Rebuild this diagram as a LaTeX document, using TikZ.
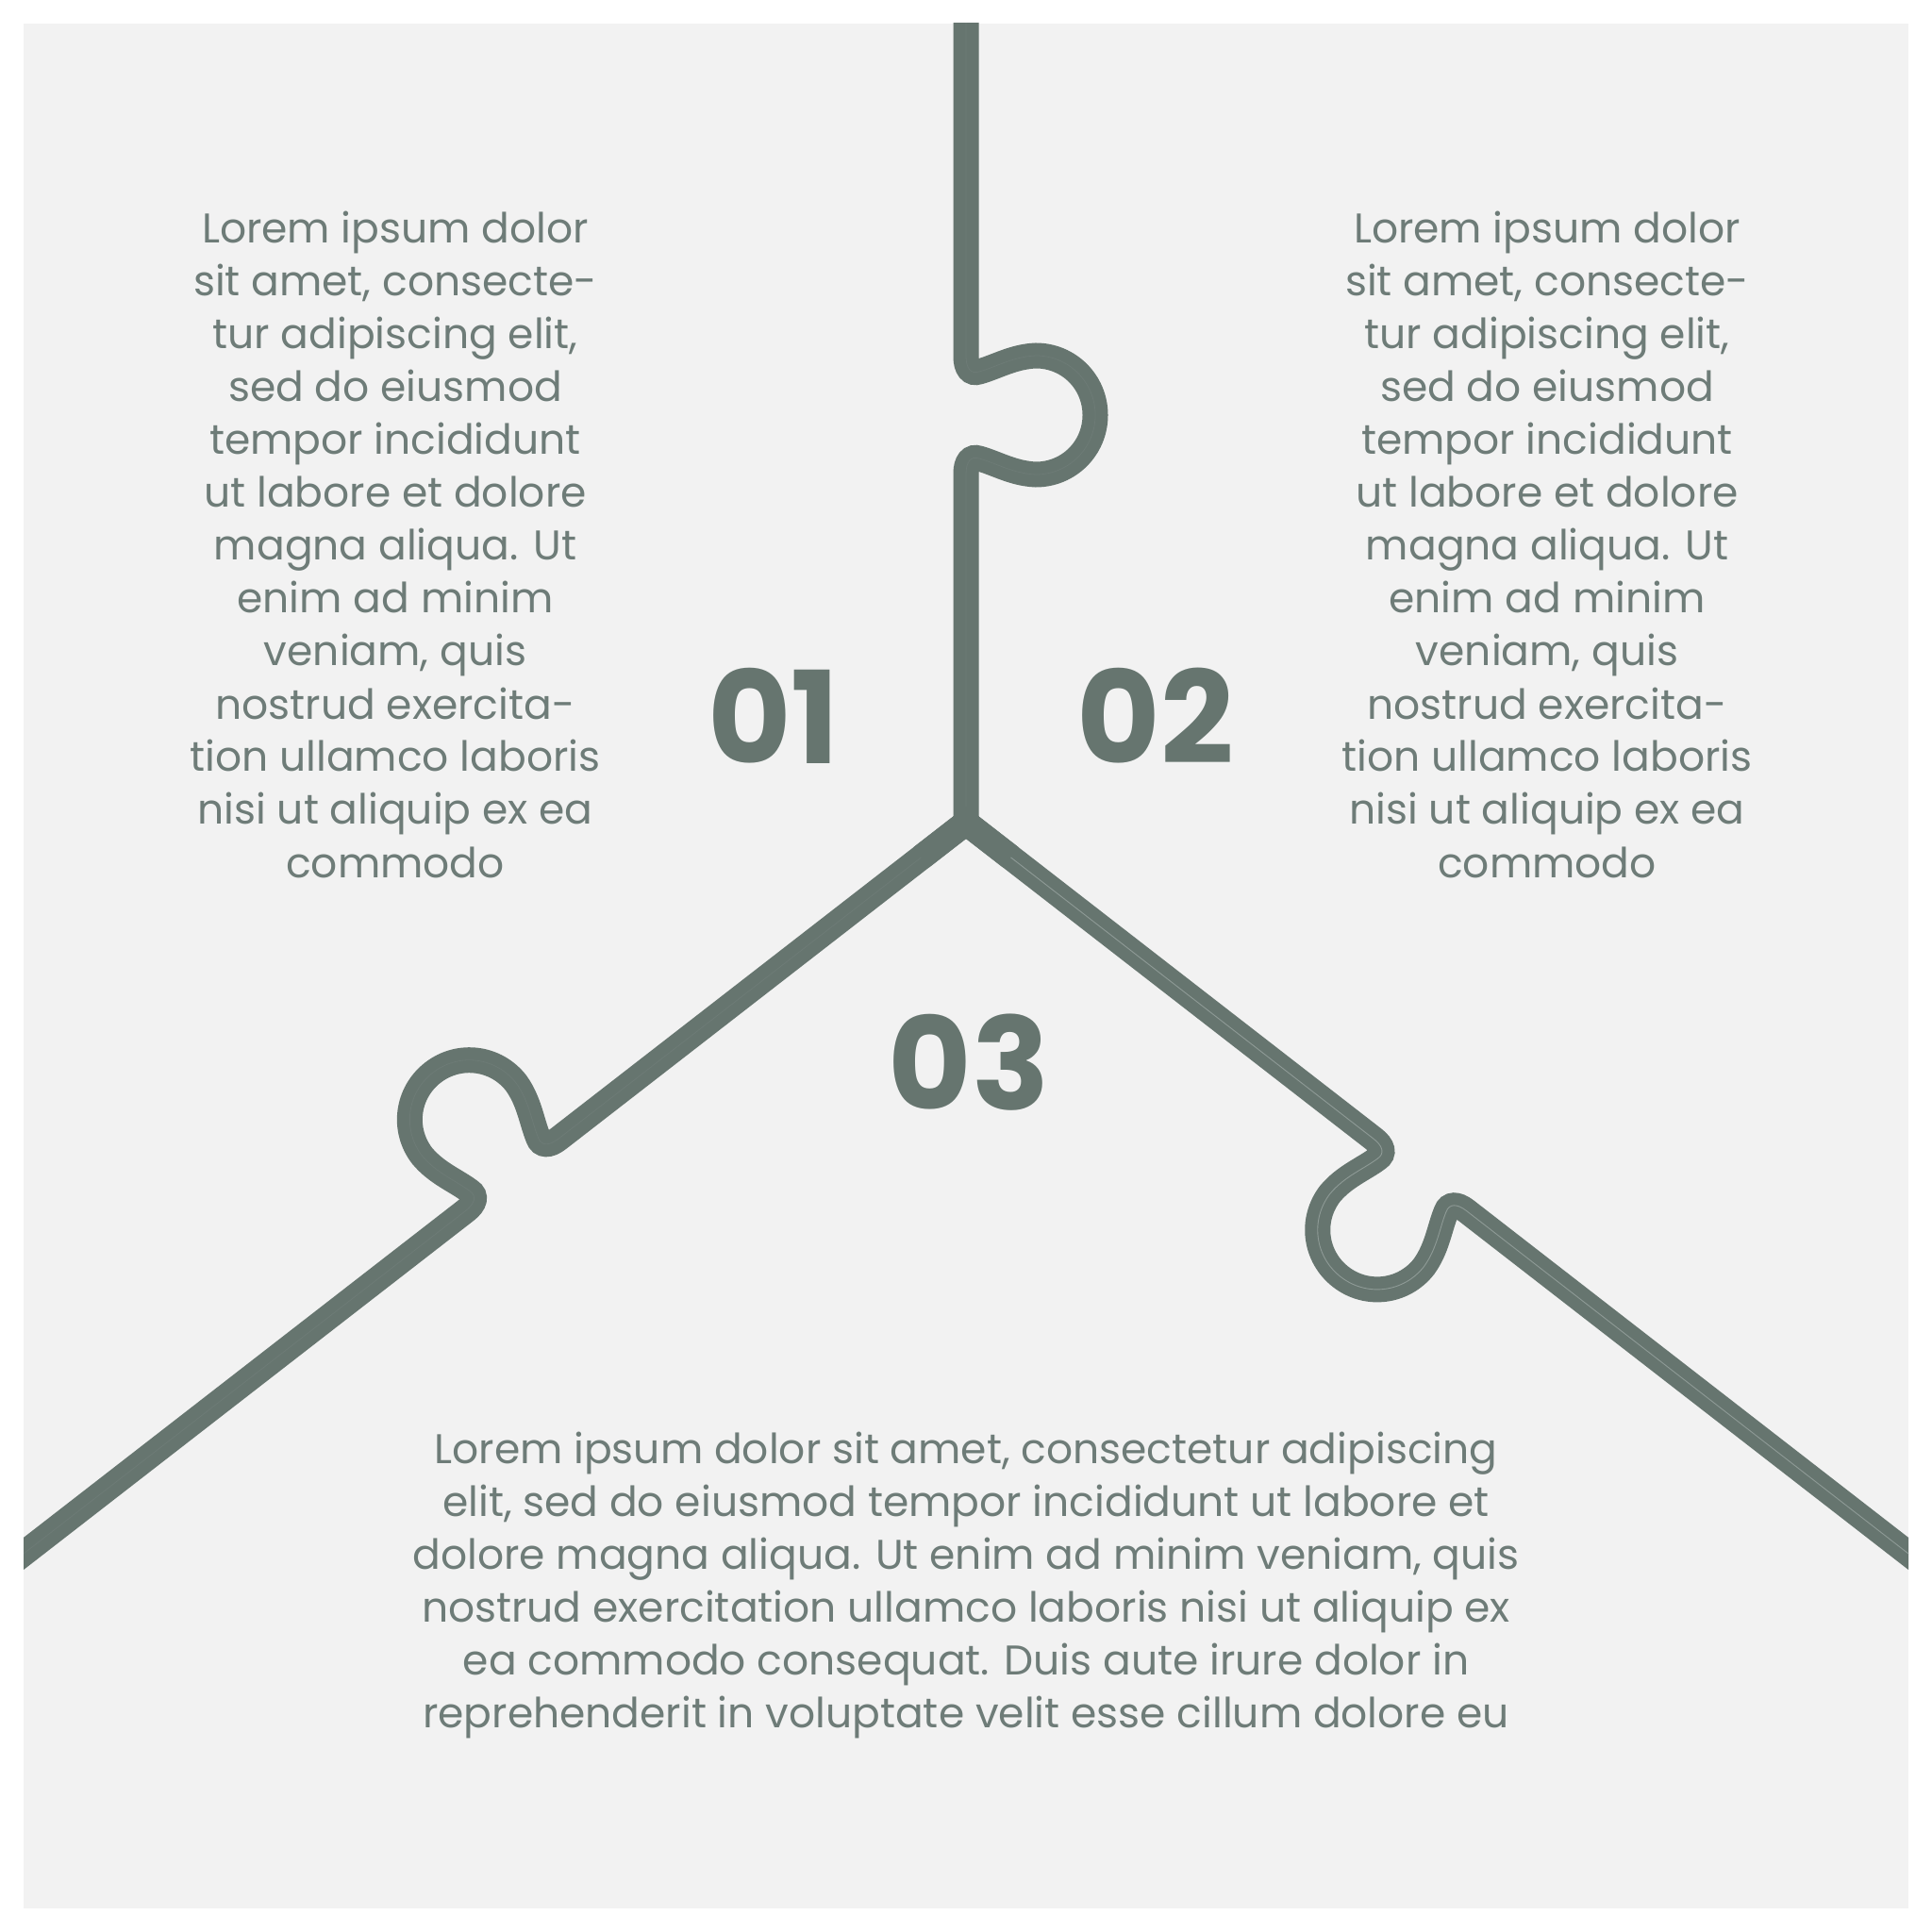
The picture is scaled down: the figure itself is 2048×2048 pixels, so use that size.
\documentclass[tikz,border=0pt]{standalone}
\usepackage{fontspec}
\setmainfont{Poppins}
\definecolor{bgc}{HTML}{F2F2F2}
\definecolor{linec}{HTML}{66756F}
\definecolor{lightc}{HTML}{6D7B76}
\definecolor{lightr}{HTML}{8E9A96}
\definecolor{txtc}{HTML}{6E7C78}
\begin{document}
\begin{tikzpicture}[x=0.5pt,y=-0.5pt,
  arm/.style={draw=linec, line width=13.5pt, postaction={draw=lightc, line width=0.4pt}},
  armr/.style={draw=linec, line width=13.5pt, postaction={draw=lightr, line width=0.45pt}},
  knob/.style={insert path={ .. controls (-50,0) and (-43,5) .. (-46,14)
     .. controls (-51,32) and (-62,50) .. (-63,74)
     .. controls (-63,109) and (-35,137) .. (0,137)
     .. controls (35,137) and (63,109) .. (63,74)
     .. controls (62,50) and (51,32) .. (46,14)
     .. controls (43,5) and (50,0) .. (62,0)}},
  body/.style={inner sep=0pt, text=txtc, font=\fontsize{22}{28}\selectfont, anchor=base},
  num/.style={inner sep=0pt, text=linec, font=\fontsize{68}{68}\selectfont\bfseries}]
\useasboundingbox (0,0) rectangle (2048,2048);
\fill[white] (0,0) rectangle (2048,2048);
\fill[bgc] (25,25) rectangle (2023,2023);
\begin{scope}
\clip (25,25) rectangle (2023,2023);
% vertical arm
\begin{scope}[shift={(1024,440)}, x={(0pt,0.5pt)}, y={(0.5pt,0pt)}]
  \draw[arm] (-432,0) -- (-62,0) [knob] -- (500,0);
\end{scope}
% left arm
\begin{scope}[shift={(542.8,1245.3)}, x={(-0.3951pt,-0.30645pt)}, y={(-0.30645pt,0.3951pt)}]
  \draw[arm] (-609,0) -- (-62,0) [knob] -- (900,0);
\end{scope}
% right arm
\begin{scope}[shift={(1505.2,1245.3)}, x={(0.3951pt,-0.30645pt)}, y={(-0.30645pt,-0.3951pt)}]
  \draw[armr] (-609,0) -- (-62,0) [knob] -- (900,0);
\end{scope}
\coordinate (c) at (1024,872);
\coordinate (jl) at (976.6,908.8);
\coordinate (jr) at (1071.4,908.8);
\draw[draw=linec, line width=13.5pt, line join=miter] (jl) -- (c) -- (jr);
\end{scope}
% numbers
\node[num] (n1) at (820,759) {01};
\node[num] (n2) at (1225,759) {02};
\node[num] (n3) at (1027,1126) {03};
% text blocks
\node[body] (t1) at (419,258) {\begin{tabular}[t]{@{}c@{}}
Lorem ipsum dolor\\
sit amet, consecte-\\
tur adipiscing elit,\\
sed do eiusmod\\
tempor incididunt\\
ut labore et dolore\\
magna aliqua. Ut\\
enim ad minim\\
veniam, quis\\
nostrud exercita-\\
tion ullamco laboris\\
nisi ut aliquip ex ea\\
commodo\end{tabular}};
\node[body] (t2) at (1640,258) {\begin{tabular}[t]{@{}c@{}}
Lorem ipsum dolor\\
sit amet, consecte-\\
tur adipiscing elit,\\
sed do eiusmod\\
tempor incididunt\\
ut labore et dolore\\
magna aliqua. Ut\\
enim ad minim\\
veniam, quis\\
nostrud exercita-\\
tion ullamco laboris\\
nisi ut aliquip ex ea\\
commodo\end{tabular}};
\node[body] (t3) at (1024,1551) {\begin{tabular}[t]{@{}c@{}}
Lorem ipsum dolor sit amet, consectetur adipiscing\\
elit, sed do eiusmod tempor incididunt ut labore et\\
dolore magna aliqua. Ut enim ad minim veniam, quis\\
nostrud exercitation ullamco laboris nisi ut aliquip ex\\
ea commodo consequat. Duis aute irure dolor in\\
reprehenderit in voluptate velit esse cillum dolore eu\end{tabular}};
\end{tikzpicture}
\end{document}
